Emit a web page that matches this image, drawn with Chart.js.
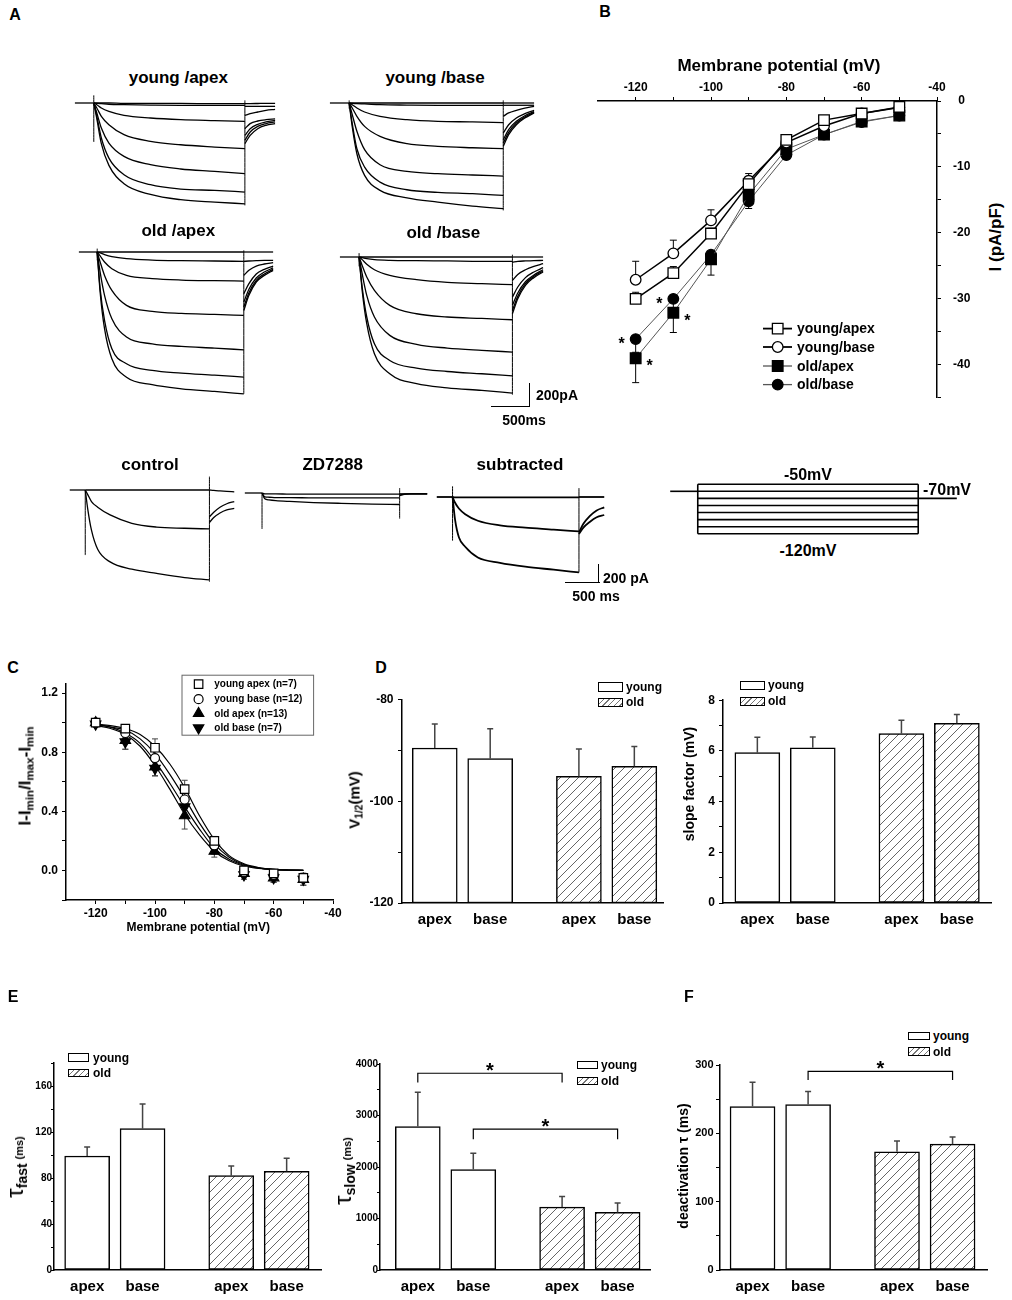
<!DOCTYPE html>
<html><head><meta charset="utf-8">
<script src="https://cdn.jsdelivr.net/npm/chart.js@4.4.0/dist/chart.umd.min.js"></script>
<style>
html,body{margin:0;padding:0;background:#fff}
body{width:1012px;height:1300px;position:relative;overflow:hidden;font-family:"Liberation Sans",Arial,sans-serif;color:#000}
canvas{position:absolute}
.t{position:absolute;white-space:nowrap;font-weight:bold;line-height:1;z-index:5}
.t sub{font-size:0.68em;vertical-align:-0.3em;line-height:0}
.box{position:absolute;box-sizing:border-box;border:1.3px solid #000;background:#fff;z-index:5}
.hb{background:repeating-linear-gradient(135deg,#fff 0 3px,#777 3px 4px)}
.sb{position:absolute;background:#000;z-index:5}
</style></head><body>
<script>
// ================= DATA =================
// Panel A traces (pA) — step samples at STEP_T (ms), tail samples at TAIL_T (ms)
const STEP_T = [0, 40, 100, 200, 400, 750, 1150, 1600, 2000];
const TAIL_T = [2000, 2070, 2170, 2280, 2400];
const BASE_T = [-250, 0];

const yaStep = [
 [0,0,0,0,-3,-3,-3,-6,-6],
 [0,-3,-6,-11,-14,-17,-19,-19,-19],
 [0,-14,-42,-70,-103,-125,-139,-147,-153],
 [0,-42,-111,-181,-264,-320,-348,-367,-381],
 [0,-83,-209,-334,-445,-514,-550,-570,-589],
 [0,-111,-292,-459,-598,-681,-717,-728,-742],
 [0,-131,-339,-520,-673,-762,-806,-826,-840]];
const yaTail = [
 [-6,-5,-4,-3,-3],[-28,-28,-28,-28,-28],[-103,-89,-75,-61,-53],
 [-214,-172,-150,-139,-133],[-270,-214,-178,-158,-145],
 [-311,-242,-195,-172,-158],[-339,-270,-214,-186,-172]];
const ybStep = [
 [0,0,0,0,0,0,0,0,0],
 [0,-3,-6,-8,-14,-17,-19,-19,-19],
 [0,-14,-42,-75,-111,-139,-153,-158,-164],
 [0,-42,-111,-195,-278,-339,-361,-373,-381],
 [0,-97,-236,-389,-514,-570,-589,-600,-609],
 [0,-172,-381,-534,-659,-723,-745,-756,-770],
 [0,-200,-423,-603,-728,-790,-826,-859,-881]];
const ybTail = [
 [0,0,0,0,0],[-19,-19,-19,-19,-19],[-111,-83,-61,-42,-28],
 [-250,-181,-125,-89,-61],[-306,-222,-153,-106,-72],
 [-334,-245,-167,-117,-78],[-361,-264,-181,-125,-83]];
const oaStep = [
 [0,0,0,0,0,0,0,0,0],
 [0,-8,-22,-39,-56,-67,-72,-75,-78],
 [0,-33,-83,-139,-195,-222,-234,-239,-242],
 [0,-83,-195,-320,-445,-495,-512,-520,-528],
 [0,-167,-361,-556,-709,-765,-787,-801,-815],
 [0,-306,-570,-806,-931,-987,-1009,-1026,-1043],
 [0,-334,-639,-890,-1043,-1106,-1140,-1162,-1182]];
const oaTail = [
 [0,0,0,0,0],[-78,-75,-72,-70,-70],[-195,-153,-117,-100,-89],
 [-348,-264,-183,-145,-117],[-417,-311,-217,-167,-133],
 [-459,-339,-236,-183,-145],[-487,-361,-250,-195,-153]];
const obStep = [
 [0,0,0,0,0,0,0,0,0],
 [0,-6,-14,-22,-28,-31,-33,-36,-36],
 [0,-22,-61,-106,-153,-189,-211,-222,-231],
 [0,-70,-167,-278,-403,-473,-500,-512,-523],
 [0,-139,-320,-500,-653,-728,-759,-778,-792],
 [0,-250,-500,-723,-862,-926,-954,-973,-990],
 [0,-278,-556,-806,-973,-1056,-1090,-1112,-1134]];
const obTail = [
 [0,0,0,0,0],[-42,-36,-33,-31,-28],[-195,-145,-106,-78,-56],
 [-334,-250,-172,-125,-89],[-403,-300,-206,-150,-106],
 [-445,-328,-222,-161,-117],[-473,-348,-236,-172,-125]];
const ctlStep = [
 [0,0,0,0,0,0,0,0,0],
 [0,-51,-128,-191,-277,-370,-412,-425,-433],
 [0,-212,-447,-659,-799,-880,-927,-973,-999]];
const ctlTail = [[0,-5,-10,-15,-21],[-298,-247,-191,-153,-128],[-361,-306,-255,-221,-204]];
const zdStep = [
 [0,-9,-9,-9,-13,-13,-13,-13,-13],
 [0,-43,-47,-51,-51,-55,-55,-55,-55],
 [0,-64,-77,-85,-94,-106,-115,-123,-128]];
const zdTail = [[-9,-9,-9,-9,-9],[-20,-12,-9,-9,-9],[-30,-15,-10,-9,-9]];
const subStep = [
 [0,-4,-4,-4,-4,-4,-4,-4,-4],
 [0,-64,-128,-191,-264,-315,-340,-362,-383],
 [0,-255,-447,-553,-672,-731,-774,-808,-838]];
const subTail = [[0,0,0,0,0],[-391,-298,-212,-149,-115],[-412,-340,-277,-225,-200]];
// capacitive transients [top, bottom] at onset / step end (pA)
const yaSpk = [[64,-325],[22,-853]];
const ybSpk = [[22,-47],[22,-895]];
const oaSpk = [[28,-70],[14,-1182]];
const obSpk = [[33,-78],[19,-1148]];
const ctlSpk = [[0,-723],[149,-1020]];
const zdSpk = [[0,-400],[55,-285]];
const subSpk = [[119,-485],[98,-838]];

// Voltage protocol (mV)
const protoLevels = [-50,-60,-70,-80,-90,-100,-110,-120];
const holdBefore = -60, holdAfter = -70;
const protoTimes = [-250, 0, 2000, 2350];

// Panel B: I-V (pA/pF)
const ivV = [-120,-110,-100,-90,-80,-70,-60,-50];
const ivYA = [-30.0,-26.1,-20.1,-12.6,-5.9,-2.9,-1.9,-0.9];
const ivYB = [-27.1,-23.1,-18.1,-12.1,-6.3,-3.8,-1.9,-1.0];
const ivOA = [-39.0,-32.1,-24.0,-14.2,-7.3,-5.1,-3.1,-2.2];
const ivOB = [-36.1,-30.0,-23.3,-15.2,-8.2,-5.1,-3.2,-2.2];
const ivYAerr = [1.0,1.0,0.8,0.5,0.3,0.3,0.2,0.2];
const ivYBerr = [2.8,2.0,1.6,1.1,0.5,0.5,0.3,0.3];
const ivOAerr = [3.7,3.0,2.4,1.5,0.7,0.5,0.4,0.3];
const ivOBerr = [2.0,1.5,1.3,1.1,0.6,0.5,0.4,0.3];
const ivSig = [['oB',0],['oA',0],['oB',1],['oA',1]];

// Panel C: activation
const actV = [-120,-110,-100,-90,-80,-70,-60,-50];
const actYA = [1.00,0.96,0.83,0.55,0.20,0.00,-0.02,-0.05];
const actYB = [1.00,0.93,0.76,0.48,0.17,-0.01,-0.03,-0.05];
const actOA = [1.00,0.88,0.70,0.37,0.13,-0.02,-0.05,-0.06];
const actOB = [0.99,0.87,0.69,0.43,0.15,-0.03,-0.05,-0.06];
const actYAerr = [0.01,0.02,0.06,0.06,0.03,0.02,0.02,0.03];
const actYBerr = [0.01,0.03,0.05,0.05,0.03,0.02,0.02,0.03];
const actOAerr = [0.02,0.06,0.06,0.09,0.04,0.03,0.03,0.04];
const actOBerr = [0.02,0.05,0.05,0.06,0.04,0.03,0.03,0.04];
const fitV = [-120,-115,-110,-105,-100,-95,-90,-85,-80,-75,-70,-65,-60,-55,-50];
const fitYA = [0.99,0.98,0.96,0.92,0.84,0.72,0.56,0.37,0.21,0.10,0.045,0.02,0.008,0.003,0.001];
const fitYB = [0.99,0.97,0.95,0.89,0.79,0.65,0.49,0.32,0.18,0.09,0.04,0.017,0.007,0.003,0.001];
const fitOB = [0.99,0.97,0.93,0.86,0.74,0.59,0.43,0.28,0.15,0.075,0.035,0.015,0.006,0.002,0.001];
const fitOA = [0.98,0.96,0.92,0.84,0.71,0.55,0.38,0.24,0.13,0.065,0.03,0.013,0.005,0.002,0.001];

// Bar panels
const BAR_LABELS = ['apex','base','apex','base'];
const BAR_GROUP = ['young','young','old','old'];
const v12 = [-89.5,-91.6,-95.1,-93.1],  v12Err = [4.7,5.9,5.4,3.9];
const slope = [5.93,6.12,6.68,7.09],    slopeErr = [0.61,0.43,0.53,0.35];
const tauFast = [99.1,122.9,82.0,85.8], tauFastErr = [7.9,21.4,8.4,11.3];
const tauSlow = [2785,1951,1221,1118],  tauSlowErr = [666,317,207,181];
const deact = [239.4,242.3,173.0,184.2],deactErr = [35.4,18.9,16.0,10.6];
const tauSlowSig = [[0,2],[1,3]];
const deactSig = [[1,3]];

// ================= SETUP =================
Chart.defaults.font.family = '"Liberation Sans", Arial, sans-serif';
Chart.defaults.font.weight = 'bold';
Chart.defaults.color = '#000';
Chart.defaults.animation = false;
Chart.defaults.plugins.legend.display = false;
Chart.defaults.plugins.tooltip.enabled = false;
const FONT = '"Liberation Sans", Arial, sans-serif';

function mk(l,t,w,h){
  const c=document.createElement('canvas');
  c.width=Math.round(w); c.height=Math.round(h);
  c.style.left=l+'px'; c.style.top=t+'px';
  c.style.width=Math.round(w)+'px'; c.style.height=Math.round(h)+'px';
  document.body.appendChild(c); return c;
}
function T(html,x,y,size,opt){
  opt=opt||{};
  const d=document.createElement('div'); d.className='t'; d.innerHTML=html;
  d.style.left=x+'px'; d.style.top=y+'px'; d.style.fontSize=size+'px';
  let tr = opt.a==='l' ? 'translate(0,-50%)' : 'translate(-50%,-50%)';
  if(opt.r) tr+=' rotate(-90deg)';
  d.style.transform=tr; document.body.appendChild(d);
}
function box(x1,y1,x2,y2,h){
  const d=document.createElement('div'); d.className='box'+(h?' hb':'');
  d.style.left=x1+'px'; d.style.top=y1+'px'; d.style.width=(x2-x1)+'px'; d.style.height=(y2-y1)+'px';
  document.body.appendChild(d);
}
function sbar(x,y,w,h){
  const d=document.createElement('div'); d.className='sb';
  d.style.left=x+'px'; d.style.top=y+'px'; d.style.width=w+'px'; d.style.height=h+'px';
  document.body.appendChild(d);
}
const baseOpts = {responsive:false, devicePixelRatio:1, animation:false, events:[]};

// ================= TRACES =================
function traceChart(lay, steps, tails, spk, lw){
  const ppm=(lay.end-lay.onset)/2000;
  const tMin=-262, tMax=2412;
  const left=lay.onset+tMin*ppm, width=(tMax-tMin)*ppm;
  const top=lay.base-lay.above, height=lay.above+lay.below;
  const yMax=lay.above/lay.ppa, yMin=-lay.below/lay.ppa;
  const c=mk(left,top,width,height);
  const line=(pts,w)=>({data:pts,borderColor:'#000',borderWidth:w||lw,pointRadius:0,cubicInterpolationMode:'monotone',fill:false,clip:false});
  const ds=[line(BASE_T.map(t=>({x:t,y:0})))];
  steps.forEach(v=>ds.push(line(STEP_T.map((t,j)=>({x:t,y:v[j]})))));
  tails.forEach(v=>ds.push(line(TAIL_T.map((t,j)=>({x:t,y:v[j]})))));
  ds.push(line([{x:0,y:spk[0][0]},{x:0,y:spk[0][1]}],1));
  ds.push(line([{x:2000,y:spk[1][0]},{x:2000,y:spk[1][1]}],1));
  new Chart(c,{type:'line',data:{datasets:ds},options:Object.assign({},baseOpts,{
    layout:{padding:0},
    scales:{x:{type:'linear',display:false,min:tMin,max:tMax},y:{display:false,min:yMin,max:yMax}}})});
}
const TOP={above:15,below:160,ppa:0.12}, BOT={above:20,below:100,ppa:0.09};
traceChart(Object.assign({onset:93.3,end:244.3,base:102.7},TOP), yaStep, yaTail, yaSpk, 1.3);
traceChart(Object.assign({onset:349.3,end:503.3,base:102.7},TOP), ybStep, ybTail, ybSpk, 1.3);
traceChart(Object.assign({onset:97.7,end:244.3,base:251.7},TOP), oaStep, oaTail, oaSpk, 1.3);
traceChart(Object.assign({onset:359,end:512.7,base:257.3},TOP), obStep, obTail, obSpk, 1.3);
traceChart(Object.assign({onset:84.9,end:209.3,base:489.7},BOT), ctlStep, ctlTail, ctlSpk, 1.3);
traceChart(Object.assign({onset:262.1,end:399.8,base:492.8},BOT), zdStep, zdTail, zdSpk, 1.3);
traceChart(Object.assign({onset:452.3,end:578.6,base:496.6},BOT), subStep, subTail, subSpk, 1.8);

// ================= PROTOCOL =================
(function(){
  const on=697.3, off=917.7, ppm=(off-on)/2000;
  const yTopV=-50, yTopPx=484, ppv=(533.7-484)/70;
  const tMin=-270, tMax=2370, vMax=-44, vMin=-126;
  const left=on+tMin*ppm, width=(tMax-tMin)*ppm;
  const top=yTopPx-(vMax-yTopV)*ppv, height=(vMax-vMin)*ppv;
  const c=mk(left,top,width,height);
  const L=(pts)=>({data:pts,borderColor:'#000',borderWidth:1.6,pointRadius:0,tension:0,clip:false});
  const ds=protoLevels.map(v=>L([{x:protoTimes[1],y:v},{x:protoTimes[2],y:v}]));
  const vTop=Math.max(...protoLevels), vBot=Math.min(...protoLevels);
  ds.push(L([{x:protoTimes[1],y:vTop},{x:protoTimes[1],y:vBot}]));
  ds.push(L([{x:protoTimes[2],y:vTop},{x:protoTimes[2],y:vBot}]));
  ds.push(L([{x:protoTimes[0],y:holdBefore},{x:protoTimes[1],y:holdBefore}]));
  ds.push(L([{x:protoTimes[2],y:holdAfter},{x:protoTimes[3],y:holdAfter}]));
  new Chart(c,{type:'line',data:{datasets:ds},options:Object.assign({},baseOpts,{layout:{padding:0},
    scales:{x:{type:'linear',display:false,min:tMin,max:tMax},y:{display:false,min:vMin,max:vMax}}})});
})();

// ================= PANEL B =================
(function(){
  const ox=588, oy=70.7;
  const c=mk(ox,oy,394,346.3);
  const S=[
    {k:'yA',y:ivYA,e:ivYAerr,dir:1,ps:'rect',r:7.5,bg:'#fff',lc:'#000',lw:1.5,lab:'young/apex'},
    {k:'yB',y:ivYB,e:ivYBerr,dir:1,ps:'circle',r:5.3,bg:'#fff',lc:'#000',lw:1.5,lab:'young/base'},
    {k:'oA',y:ivOA,e:ivOAerr,dir:-1,ps:'rect',r:7.5,bg:'#000',lc:'#555',lw:1,lab:'old/apex'},
    {k:'oB',y:ivOB,e:ivOBerr,dir:-1,ps:'circle',r:5.3,bg:'#000',lc:'#555',lw:1,lab:'old/base'}];
  const ds=S.map(s=>({data:ivV.map((v,i)=>({x:v,y:s.y[i]})),borderColor:s.lc,borderWidth:s.lw,tension:0,
    pointStyle:s.ps,pointRadius:s.r,pointBackgroundColor:s.bg,pointBorderColor:'#000',pointBorderWidth:1.3,clip:false}));
  const deco={id:'ivDeco',
    beforeDatasetsDraw(ch){const ctx=ch.ctx,xs=ch.scales.x,ys=ch.scales.y;ctx.save();ctx.strokeStyle='#000';ctx.lineWidth=1;
      S.forEach(s=>s.y.forEach((v,i)=>{const x=xs.getPixelForValue(ivV[i]),y0=ys.getPixelForValue(v),y1=ys.getPixelForValue(v+s.dir*s.e[i]);
        ctx.beginPath();ctx.moveTo(x,y0);ctx.lineTo(x,y1);ctx.moveTo(x-3.5,y1);ctx.lineTo(x+3.5,y1);ctx.stroke();}));ctx.restore();},
    afterDatasetsDraw(ch){const ctx=ch.ctx,xs=ch.scales.x,ys=ch.scales.y;ctx.save();ctx.fillStyle='#000';ctx.font='bold 16px '+FONT;
      ctx.textAlign='center';ctx.textBaseline='alphabetic';
      ivSig.forEach(([k,i])=>{const s=S.find(q=>q.k===k);const x=xs.getPixelForValue(ivV[i])+(k==='oB'?-14:14);const y=ys.getPixelForValue(s.y[i]);
        ctx.fillText('*',x,y+(k==='oB'?10:13));});
      // legend
      const rows=[328.3,346.7,365.7,384.3];
      S.forEach((s,i)=>{const y=rows[i]-oy;ctx.strokeStyle=s.lc;ctx.lineWidth=s.lw+0.3;ctx.beginPath();ctx.moveTo(763-ox,y);ctx.lineTo(792-ox,y);ctx.stroke();
        ctx.fillStyle=s.bg;ctx.strokeStyle='#000';ctx.lineWidth=1.3;
        Chart.helpers.drawPoint(ctx,{pointStyle:s.ps,radius:s.r,rotation:0,borderWidth:1.3},777.7-ox,y);
        ctx.fillStyle='#000';ctx.textAlign='left';ctx.textBaseline='middle';ctx.font='bold 14px '+FONT;ctx.fillText(s.lab,797-ox,y+1);});
      ctx.restore();}};
  const xt=[]; for(let v=-120;v<=-40;v+=10) xt.push(v);
  const yt=[]; for(let v=-45;v<=0;v+=5) yt.push(v);
  new Chart(c,{type:'line',data:{datasets:ds},options:Object.assign({},baseOpts,{
    layout:{padding:{left:10,bottom:12,top:0,right:0}},
    scales:{
      x:{type:'linear',position:'top',min:-130,max:-40,afterBuildTicks:a=>{a.ticks=xt.map(v=>({value:v}))},afterFit:a=>{a.height=30},
        grid:{drawOnChartArea:false,tickLength:4,color:'#000'},border:{color:'#000',width:1.5},
        ticks:{padding:2,autoSkip:false,maxRotation:0,font:{size:12,weight:'bold'},color:'#000',callback:v=>(v%20===0?String(v):'')}},
      y:{position:'right',min:-45,max:0,afterBuildTicks:a=>{a.ticks=yt.map(v=>({value:v}))},afterFit:a=>{a.width=45},
        grid:{drawOnChartArea:false,tickLength:4,color:'#000'},border:{color:'#000',width:1.5},
        ticks:{padding:12,crossAlign:'center',autoSkip:false,font:{size:12,weight:'bold'},color:'#000',callback:v=>(v%10===0?String(v):'')}}}}),
    plugins:[deco]});
})();

// ================= PANEL C =================
(function(){
  const ox=25.7, oy=672.8;
  const c=mk(ox,oy,319,254.5);
  const S=[
    {y:actYA,e:actYAerr,ps:'rect',r:6,rot:0,bg:'#fff',lab:'young apex (n=7)'},
    {y:actYB,e:actYBerr,ps:'circle',r:4.5,rot:0,bg:'#fff',lab:'young base (n=12)'},
    {y:actOA,e:actOAerr,ps:'triangle',r:6,rot:0,bg:'#000',lab:'old apex (n=13)'},
    {y:actOB,e:actOBerr,ps:'triangle',r:6,rot:180,bg:'#000',lab:'old base (n=7)'}];
  const ds=S.map(s=>({data:actV.map((v,i)=>({x:v,y:s.y[i]})),showLine:false,pointStyle:s.ps,pointRadius:s.r,pointRotation:s.rot,
    pointBackgroundColor:s.bg,pointBorderColor:'#000',pointBorderWidth:1.2,clip:false}));
  [fitYA,fitYB,fitOB,fitOA].forEach(f=>ds.push({data:fitV.map((v,i)=>({x:v,y:f[i]})),borderColor:'#000',borderWidth:1.2,pointRadius:0,cubicInterpolationMode:'monotone'}));
  const deco={id:'actDeco',
    beforeDatasetsDraw(ch){const ctx=ch.ctx,xs=ch.scales.x,ys=ch.scales.y;ctx.save();ctx.strokeStyle='#444';ctx.lineWidth=1;
      S.forEach(s=>s.y.forEach((v,i)=>{const x=xs.getPixelForValue(actV[i]),a=ys.getPixelForValue(v+s.e[i]),b=ys.getPixelForValue(v-s.e[i]);
        ctx.beginPath();ctx.moveTo(x,a);ctx.lineTo(x,b);ctx.moveTo(x-3,a);ctx.lineTo(x+3,a);ctx.moveTo(x-3,b);ctx.lineTo(x+3,b);ctx.stroke();}));ctx.restore();},
    afterDraw(ch){const ctx=ch.ctx;ctx.save();ctx.strokeStyle='#666';ctx.lineWidth=1;ctx.strokeRect(181.7-ox,675-oy,131.6,60);
      const rows=[684,699,713.3,727.7];
      S.forEach((s,i)=>{const y=rows[i]-oy;ctx.fillStyle=s.bg;ctx.strokeStyle='#000';ctx.lineWidth=1.2;
        Chart.helpers.drawPoint(ctx,{pointStyle:s.ps,radius:s.r,rotation:s.rot,borderWidth:1.2},198.3-ox,y);
        ctx.fillStyle='#000';ctx.font='bold 10px '+FONT;ctx.textAlign='left';ctx.textBaseline='middle';ctx.fillText(s.lab,214-ox,y+0.5);});
      ctx.restore();}};
  const xt=[]; for(let v=-120;v<=-40;v+=10) xt.push(v);
  const yt=[-0.2,0,0.2,0.4,0.6,0.8,1.0,1.2];
  new Chart(c,{type:'line',data:{datasets:ds},options:Object.assign({},baseOpts,{
    layout:{padding:{top:10,right:12,left:0,bottom:0}},
    scales:{
      x:{type:'linear',min:-130,max:-40,afterBuildTicks:a=>{a.ticks=xt.map(v=>({value:v}))},afterFit:a=>{a.height=28},
        grid:{drawOnChartArea:false,tickLength:4,color:'#000'},border:{color:'#000',width:1.5},
        ticks:{padding:2,autoSkip:false,maxRotation:0,font:{size:12,weight:'bold'},color:'#000',callback:v=>(v%20===0?String(v):'')}},
      y:{min:-0.2,max:1.26,afterBuildTicks:a=>{a.ticks=yt.map(v=>({value:v}))},afterFit:a=>{a.width=40},
        grid:{drawOnChartArea:false,tickLength:4,color:'#000'},border:{color:'#000',width:1.5},
        ticks:{padding:4,autoSkip:false,font:{size:12,weight:'bold'},color:'#000',callback:v=>([0,0.4,0.8,1.2].some(q=>Math.abs(q-v)<1e-9)?v.toFixed(1):'')}}}}),
    plugins:[deco]});
})();

// ================= BAR PANELS =================
const hatch=(function(){const s=9,p=document.createElement('canvas');p.width=s;p.height=s;const x=p.getContext('2d');
  x.fillStyle='#fff';x.fillRect(0,0,s,s);x.strokeStyle='#666';x.lineWidth=1;x.beginPath();
  x.moveTo(-1,s+1);x.lineTo(s+1,-1);x.moveTo(-1,1);x.lineTo(1,-1);x.moveTo(s-1,s+1);x.lineTo(s+1,s-1);x.stroke();
  return x.createPattern(p,'repeat');})();
const SLOTS=[0,1,2.6,3.6], UNIT=55.5;
const barDeco={id:'barDeco',afterDatasetsDraw(ch,args,o){
  const ctx=ch.ctx,xs=ch.scales.x,ys=ch.scales.y;ctx.save();ctx.strokeStyle='#444';ctx.lineWidth=1.5;
  o.vals.forEach((v,i)=>{const x=xs.getPixelForValue(SLOTS[i]),y0=ys.getPixelForValue(v),y1=ys.getPixelForValue(v+o.errs[i]);
    ctx.beginPath();ctx.moveTo(x,y0);ctx.lineTo(x,y1);ctx.moveTo(x-3,y1);ctx.lineTo(x+3,y1);ctx.stroke();});
  (o.sig||[]).forEach((pr,k)=>{const h=o.sigLay[k];const xa=xs.getPixelForValue(SLOTS[pr[0]]),xb=xs.getPixelForValue(SLOTS[pr[1]]);
    const yl=ys.getPixelForValue(h[0]),yd=ys.getPixelForValue(h[1]);
    ctx.strokeStyle='#000';ctx.lineWidth=1.2;ctx.beginPath();ctx.moveTo(xa,yd);ctx.lineTo(xa,yl);ctx.lineTo(xb,yl);ctx.lineTo(xb,yd);ctx.stroke();
    ctx.fillStyle='#000';ctx.font='bold 20px '+FONT;ctx.textAlign='center';ctx.textBaseline='alphabetic';ctx.fillText('*',(xa+xb)/2,yl+4);});
  ctx.restore();}};
function barChart(L,vals,errs,sig,sigLay){
  const AW=40,AH=30,PT=8,PR=8;
  const c=mk(L.left-AW,L.top-PT,(L.right-L.left)+AW+PR,(L.bottom-L.top)+PT+AH);
  const xMin=-(L.first-L.left)/UNIT, xMax=xMin+(L.right-L.left)/UNIT;
  const yt=[...L.major,...L.minor].sort((a,b)=>a-b);
  new Chart(c,{type:'bar',data:{datasets:[{data:vals.map((v,i)=>({x:SLOTS[i],y:[L.yMin,v]})),
      backgroundColor:BAR_GROUP.map(g=>g==='young'?'#fff':hatch),borderColor:'#000',borderWidth:1.5,borderSkipped:false,barThickness:45}]},
    options:Object.assign({},baseOpts,{layout:{padding:{top:PT,right:PR,left:0,bottom:0}},
      plugins:{legend:{display:false},tooltip:{enabled:false},barDeco:{vals,errs,sig,sigLay}},
      scales:{
        x:{type:'linear',offset:false,min:xMin,max:xMax,afterBuildTicks:a=>{a.ticks=SLOTS.map(v=>({value:v}))},afterFit:a=>{a.height=AH},
          grid:{display:true,offset:false,drawOnChartArea:false,drawTicks:false},border:{color:'#000',width:1.5},
          ticks:{padding:8,autoSkip:false,maxRotation:0,font:{size:15,weight:'bold'},color:'#000',callback:(v,i)=>BAR_LABELS[i]}},
        y:{min:L.yMin,max:L.yMax,afterBuildTicks:a=>{a.ticks=yt.map(v=>({value:v}))},afterFit:a=>{a.width=AW},
          grid:{drawOnChartArea:false,drawTicks:true,tickLength:L.tl,color:'#000'},border:{color:'#000',width:1.5},
          ticks:{padding:L.tp,autoSkip:false,font:{size:L.fs,weight:'bold'},color:'#000',callback:v=>(L.major.includes(v)?String(v):'')}}}}),
    plugins:[barDeco]});
}
barChart({left:401.7,right:663,top:695.7,bottom:902.7,first:434.5,yMin:-120,yMax:-80,major:[-120,-100,-80],minor:[-110,-90],fs:12,tl:4,tp:4.5},v12,v12Err);
barChart({left:723.3,right:991.7,top:697.3,bottom:903.3,first:757.7,yMin:0,yMax:8,major:[0,2,4,6,8],minor:[1,3,5,7],fs:12,tl:4,tp:4},slope,slopeErr);
barChart({left:54.3,right:321.7,top:1063.3,bottom:1270.7,first:87.5,yMin:0,yMax:180,major:[0,40,80,120,160],minor:[20,60,100,140,180],fs:10,tl:3,tp:-1},tauFast,tauFastErr);
barChart({left:380,right:650,top:1064,bottom:1270.3,first:417.8,yMin:0,yMax:4000,major:[0,1000,2000,3000,4000],minor:[500,1500,2500,3500],fs:10,tl:3,tp:-1},tauSlow,tauSlowErr,tauSlowSig,[[3820,3640],[2734,2540]]);
barChart({left:720,right:986.7,top:1064.3,bottom:1270.7,first:752.5,yMin:0,yMax:300,major:[0,100,200,300],minor:[50,150,250],fs:11,tl:4,tp:2.5},deact,deactErr,deactSig,[[290.8,278.3]]);

// ================= LEGENDS (bar panels) =================
function barLegend(x1,x2,y1a,y1b,y2a,y2b,tx){
  box(x1,y1a,x2,y1b,false); box(x1,y2a,x2,y2b,true);
  T('young',tx,(y1a+y1b)/2,12,{a:'l'}); T('old',tx,(y2a+y2b)/2,12,{a:'l'});
}
barLegend(597.7,623.3,681.7,691.7,697.7,706.7,626);
barLegend(740,765,681,689.5,697,705.5,768);
barLegend(67.7,89.3,1053.3,1062.3,1069.3,1077.3,93);
barLegend(576.7,598.3,1060.7,1069.3,1076.7,1085,601);
barLegend(908.3,930,1031.7,1040,1047.3,1055.7,933);

// ================= TEXT =================
T('A',15,15,16); T('B',605,12,16); T('C',13,668,16); T('D',381,668,16); T('E',13,997,16); T('F',689,997,16);
T('young /apex',178.3,77.3,17); T('young /base',435,77.3,17); T('old /apex',178.3,230,17); T('old /base',443.3,231.7,17);
T('control',150,463.5,17); T('ZD7288',332.7,463.5,17); T('subtracted',520,463.5,17);
T('-50mV',808,475,16); T('-70mV',923,490,16,{a:'l'}); T('-120mV',808,551,16);
// scale bars
sbar(528.5,382.7,1.6,24.8); sbar(490.7,405.9,39.4,1.6);
T('200pA',536,395,14,{a:'l'}); T('500ms',524,420,14);
sbar(597.9,564.3,1.6,18.8); sbar(565,581.5,34.5,1.6);
T('200 pA',603,577.5,14,{a:'l'}); T('500 ms',596,595.5,14);
// panel B titles
T('Membrane potential (mV)',779,65,17); T('I (pA/pF)',995,237,17,{r:1});
// panel C titles
T('Membrane potential (mV)',198.3,927,12);
T('I-I<sub>min</sub>/I<sub>max</sub>-I<sub>min</sub>',25,776,17,{r:1});
// panel D titles
T('V<sub>1/2</sub>(mV)',354,800,15,{r:1});
T('slope factor (mV)',689,784,14,{r:1});
// panel E / F titles
T('<span style="font-size:24px;font-weight:normal">&tau;</span><sub style="font-size:14px">fast</sub> <span style="font-size:11px">(ms)</span>',15,1167,14,{r:1});
T('<span style="font-size:24px;font-weight:normal">&tau;</span><sub style="font-size:14px">slow</sub> <span style="font-size:11px">(ms)</span>',343,1171,14,{r:1});
T('deactivation &tau; (ms)',683,1166,14,{r:1});
</script>
</body></html>
